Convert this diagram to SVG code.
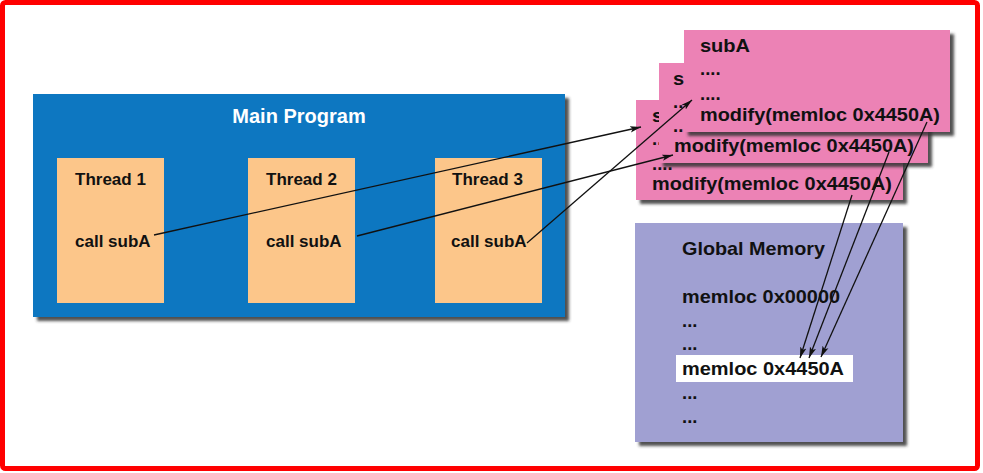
<svg xmlns="http://www.w3.org/2000/svg" width="983" height="473" viewBox="0 0 983 473">
<defs>
<filter id="sh" x="-10%" y="-10%" width="130%" height="130%">
<feDropShadow dx="4" dy="4" stdDeviation="1.6" flood-color="#333" flood-opacity="0.85"/>
</filter>
<marker id="ah" markerWidth="12" markerHeight="8" refX="11" refY="4" orient="auto" markerUnits="userSpaceOnUse">
<path d="M0,0.8 L11,4 L0,7.2 L2.5,4 Z" fill="#111"/>
</marker>
<style>
text{font-family:"Liberation Sans",Arial,sans-serif;font-weight:bold;fill:#111}
.t17{font-size:17px}
.t18{font-size:18.5px}
.blue{fill:#0a77c1}
.thr{fill:#fcc68a}
.pink{fill:#ec82b5}
.mem{fill:#a0a0d2}
.conn line{stroke:#111;stroke-width:1.3;marker-end:url(#ah)}
</style>
</defs>
<rect x="2.5" y="2.5" width="975" height="466" rx="3" fill="#fff" stroke="#ff0000" stroke-width="5"/>

<g id="main-program">
<rect class="blue" x="33" y="94" width="532" height="223" filter="url(#sh)"/>
<text x="299" y="123" text-anchor="middle" style="font-size:20px;fill:#fff">Main Program</text>
</g>
<g id="thread1">
<rect class="thr" x="57" y="158" width="107" height="145"/>
<text class="t17" x="75" y="185">Thread 1</text>
<text class="t17" x="75" y="247">call subA</text>
</g>
<g id="thread2">
<rect class="thr" x="248" y="158" width="107" height="145"/>
<text class="t17" x="266" y="185">Thread 2</text>
<text class="t17" x="266" y="247">call subA</text>
</g>
<g id="thread3">
<rect class="thr" x="435" y="158" width="107" height="145"/>
<text class="t17" x="452" y="185">Thread 3</text>
<text class="t17" x="451" y="247">call subA</text>
</g>

<g id="subA-3">
<rect class="pink" x="636" y="100" width="267" height="100" filter="url(#sh)"/>
<text class="t18" x="652" y="122" textLength="50" lengthAdjust="spacingAndGlyphs">subA</text>
<text class="t18" x="652" y="145">....</text>
<text class="t18" x="652" y="170">....</text>
<text class="t18" x="652" y="190" textLength="240" lengthAdjust="spacingAndGlyphs">modify(memloc 0x4450A)</text>
</g>
<g id="subA-2">
<rect class="pink" x="659" y="63" width="269" height="100" filter="url(#sh)"/>
<text class="t18" x="673" y="85" textLength="50" lengthAdjust="spacingAndGlyphs">subA</text>
<text class="t18" x="673" y="108">....</text>
<text class="t18" x="673" y="132">....</text>
<text class="t18" x="674" y="152" textLength="240" lengthAdjust="spacingAndGlyphs">modify(memloc 0x4450A)</text>
</g>
<g id="subA-1">
<rect class="pink" x="684" y="30" width="266" height="102" filter="url(#sh)"/>
<text class="t18" x="700" y="52" textLength="50" lengthAdjust="spacingAndGlyphs">subA</text>
<text class="t18" x="700" y="75">....</text>
<text class="t18" x="700" y="100">....</text>
<text class="t18" x="700" y="121" textLength="240" lengthAdjust="spacingAndGlyphs">modify(memloc 0x4450A)</text>
</g>

<g id="global-memory">
<rect class="mem" x="635" y="223" width="268" height="219" filter="url(#sh)"/>
<rect x="676" y="355" width="177" height="27" fill="#fff"/>
<text class="t18" x="682" y="255" textLength="143" lengthAdjust="spacingAndGlyphs">Global Memory</text>
<text class="t18" x="682" y="303" textLength="158" lengthAdjust="spacingAndGlyphs">memloc 0x00000</text>
<text class="t18" x="682" y="327">...</text>
<text class="t18" x="682" y="350">...</text>
<text class="t18" x="682" y="375" textLength="162" lengthAdjust="spacingAndGlyphs">memloc 0x4450A</text>
<text class="t18" x="682" y="399">...</text>
<text class="t18" x="682" y="423">...</text>
</g>

<g id="connectors" class="conn">
<line x1="154" y1="235" x2="641" y2="127"/>
<line x1="357" y1="236" x2="673" y2="155"/>
<line x1="527" y1="243" x2="692" y2="100"/>
<line x1="852" y1="195" x2="800" y2="358"/>
<line x1="889" y1="152" x2="809" y2="358"/>
<line x1="927" y1="122" x2="821" y2="357"/>
</g>
</svg>
